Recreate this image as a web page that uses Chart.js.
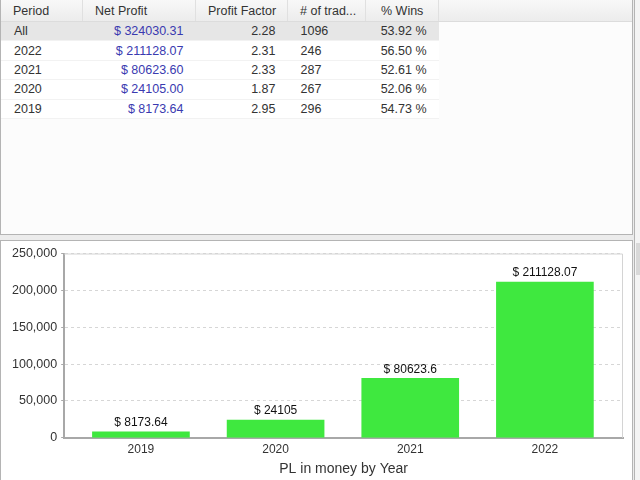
<!DOCTYPE html>
<html>
<head>
<meta charset="utf-8">
<script src="https://cdn.jsdelivr.net/npm/chart.js@4/dist/chart.umd.min.js"></script>
<style>
  html, body { margin: 0; padding: 0; width: 640px; height: 480px; overflow: hidden; background: #ececec; font-family: "Liberation Sans", Arial, sans-serif; }
  #top { position: absolute; left: 0; top: 0; width: 631px; height: 234px; background: #fcfcfc; border: 1px solid #b4b4b4; border-top: none; }
  #side { position: absolute; left: 634px; top: 0; width: 6px; height: 480px; background: #f4f4f4; border-left: 1px solid #b4b4b4; }
  #thumb { position: absolute; left: 636px; top: 243px; width: 4px; height: 32px; background: #d8d8d8; }
  #bottom { position: absolute; left: 0; top: 240px; width: 631px; height: 240px; background: #ffffff; border: 1px solid #b4b4b4; border-bottom: none; }
  #hdr { position: absolute; left: 0; top: 0; width: 631px; height: 21px; background: linear-gradient(#f8f8f8, #ececec); border-bottom: 1px solid #dcdcdc; }
  table { position: absolute; left: 0; top: 0; border-collapse: collapse; font-size: 12.5px; color: #333; }
  th { font-weight: normal; height: 21px; padding: 0 0 0 12px; text-align: left; border-right: 1px solid #e0e0e0; border-bottom: 1px solid #dcdcdc; white-space: nowrap; }
  td { height: 18.4px; padding: 0 12px 0 13px; border-bottom: 1px solid #f2f2f2; background: #fff; white-space: nowrap; }
  tr.sel td { background: #e6e6e6; }
  td.r { text-align: right; }
  td.m { color: #3a3ab0; }
  #chartWrap { position: absolute; left: 0; top: 1px; width: 631px; height: 239px; }
</style>
</head>
<body>
<div id="top">
  <div id="hdr"></div>
  <table id="tbl">
    <thead>
      <tr>
        <th style="width:69px">Period</th>
        <th style="width:100px">Net Profit</th>
        <th style="width:79px">Profit Factor</th>
        <th style="width:65px"># of trad...</th>
        <th style="padding-left:15px;width:57px">% Wins</th>
      </tr>
    </thead>
    <tbody id="rows"></tbody>
  </table>
</div>
<div id="side"></div>
<div id="thumb"></div>
<div id="bottom">
  <div id="chartWrap"><canvas id="plChart"></canvas></div>
</div>
<script>
// Datos de la tabla
const periods = ["All", "2022", "2021", "2020", "2019"];
const netProfit = [324030.31, 211128.07, 80623.60, 24105.00, 8173.64];
const profitFactor = [2.28, 2.31, 2.33, 1.87, 2.95];
const trades = [1096, 246, 287, 267, 296];
const wins = [53.92, 56.50, 52.61, 52.06, 54.73];

// Datos del gráfico
const years = ["2019", "2020", "2021", "2022"];
const yearProfit = [8173.64, 24105, 80623.6, 211128.07];
const yTicks = [0, 50000, 100000, 150000, 200000, 250000];

// Tabla
const tbody = document.getElementById('rows');
periods.forEach(function (p, i) {
    const tr = document.createElement('tr');
    if (i === 0) tr.className = 'sel';
    tr.innerHTML =
        '<td>' + p + '</td>' +
        '<td class="r m">$ ' + netProfit[i].toFixed(2) + '</td>' +
        '<td class="r">' + profitFactor[i].toFixed(2) + '</td>' +
        '<td>' + trades[i] + '</td>' +
        '<td class="r">' + wins[i].toFixed(2) + ' %</td>';
    tbody.appendChild(tr);
});

Chart.defaults.font.family = '"Liberation Sans", Arial, sans-serif';
Chart.defaults.font.size = 12.5;
Chart.defaults.color = '#333333';

// Marco del área de trazado y etiquetas de valor
const framePlugin = {
    id: 'frame',
    beforeDatasetsDraw(chart) {
        const a = chart.chartArea, c = chart.ctx;
        c.save();
        c.strokeStyle = '#d4d4d4';
        c.lineWidth = 1;
        c.beginPath();
        c.moveTo(a.left, a.top + 0.5);
        c.lineTo(a.right - 0.5, a.top + 0.5);
        c.lineTo(a.right - 0.5, a.bottom);
        c.stroke();
        c.restore();
    },
    afterDatasetsDraw(chart) {
        const c = chart.ctx;
        const meta = chart.getDatasetMeta(0);
        c.save();
        c.fillStyle = '#111';
        c.font = '12px "Liberation Sans", Arial, sans-serif';
        c.textAlign = 'center';
        c.textBaseline = 'bottom';
        meta.data.forEach(function (bar, i) {
            c.fillText('$ ' + yearProfit[i], bar.x, bar.y - 3);
        });
        c.restore();
    }
};

const ctx = document.getElementById('plChart').getContext('2d');
new Chart(ctx, {
    type: 'bar',
    data: {
        datasets: [{
            label: 'PL',
            data: yearProfit.map(function (v, i) { return { x: i, y: v }; }),
            backgroundColor: '#3fe83f',
            borderWidth: 0,
            barThickness: 97
        }]
    },
    options: {
        responsive: true,
        maintainAspectRatio: false,
        animation: false,
        layout: { padding: { left: 7, right: 9, top: 10, bottom: 3 } },
        scales: {
            x: {
                type: 'linear',
                offset: false,
                min: -0.57,
                max: 3.58,
                afterBuildTicks: function (axis) {
                    axis.ticks = years.map(function (_, i) { return { value: i }; });
                },
                ticks: {
                    callback: function (v) { return years[v]; },
                    padding: 2,
                    font: { size: 12 }
                },
                grid: { display: false, drawTicks: true, tickLength: 3 },
                border: { color: '#a8a8a8', width: 2 },
                title: { display: true, text: 'PL in money by Year', font: { size: 14 }, padding: { top: 2, bottom: 0 } }
            },
            y: {
                min: 0,
                max: 250000,
                afterBuildTicks: function (axis) {
                    axis.ticks = yTicks.map(function (v) { return { value: v }; });
                },
                ticks: {
                    padding: 4,
                    callback: function (v) { return v.toLocaleString('en-US'); }
                },
                grid: { color: '#d6d6d6', tickLength: 3, tickColor: '#a8a8a8', tickBorderDash: [] },
                border: { color: '#a8a8a8', width: 2, dash: [3, 3] }
            }
        },
        plugins: {
            legend: { display: false },
            tooltip: { enabled: false }
        }
    },
    plugins: [framePlugin]
});
</script>
</body>
</html>
